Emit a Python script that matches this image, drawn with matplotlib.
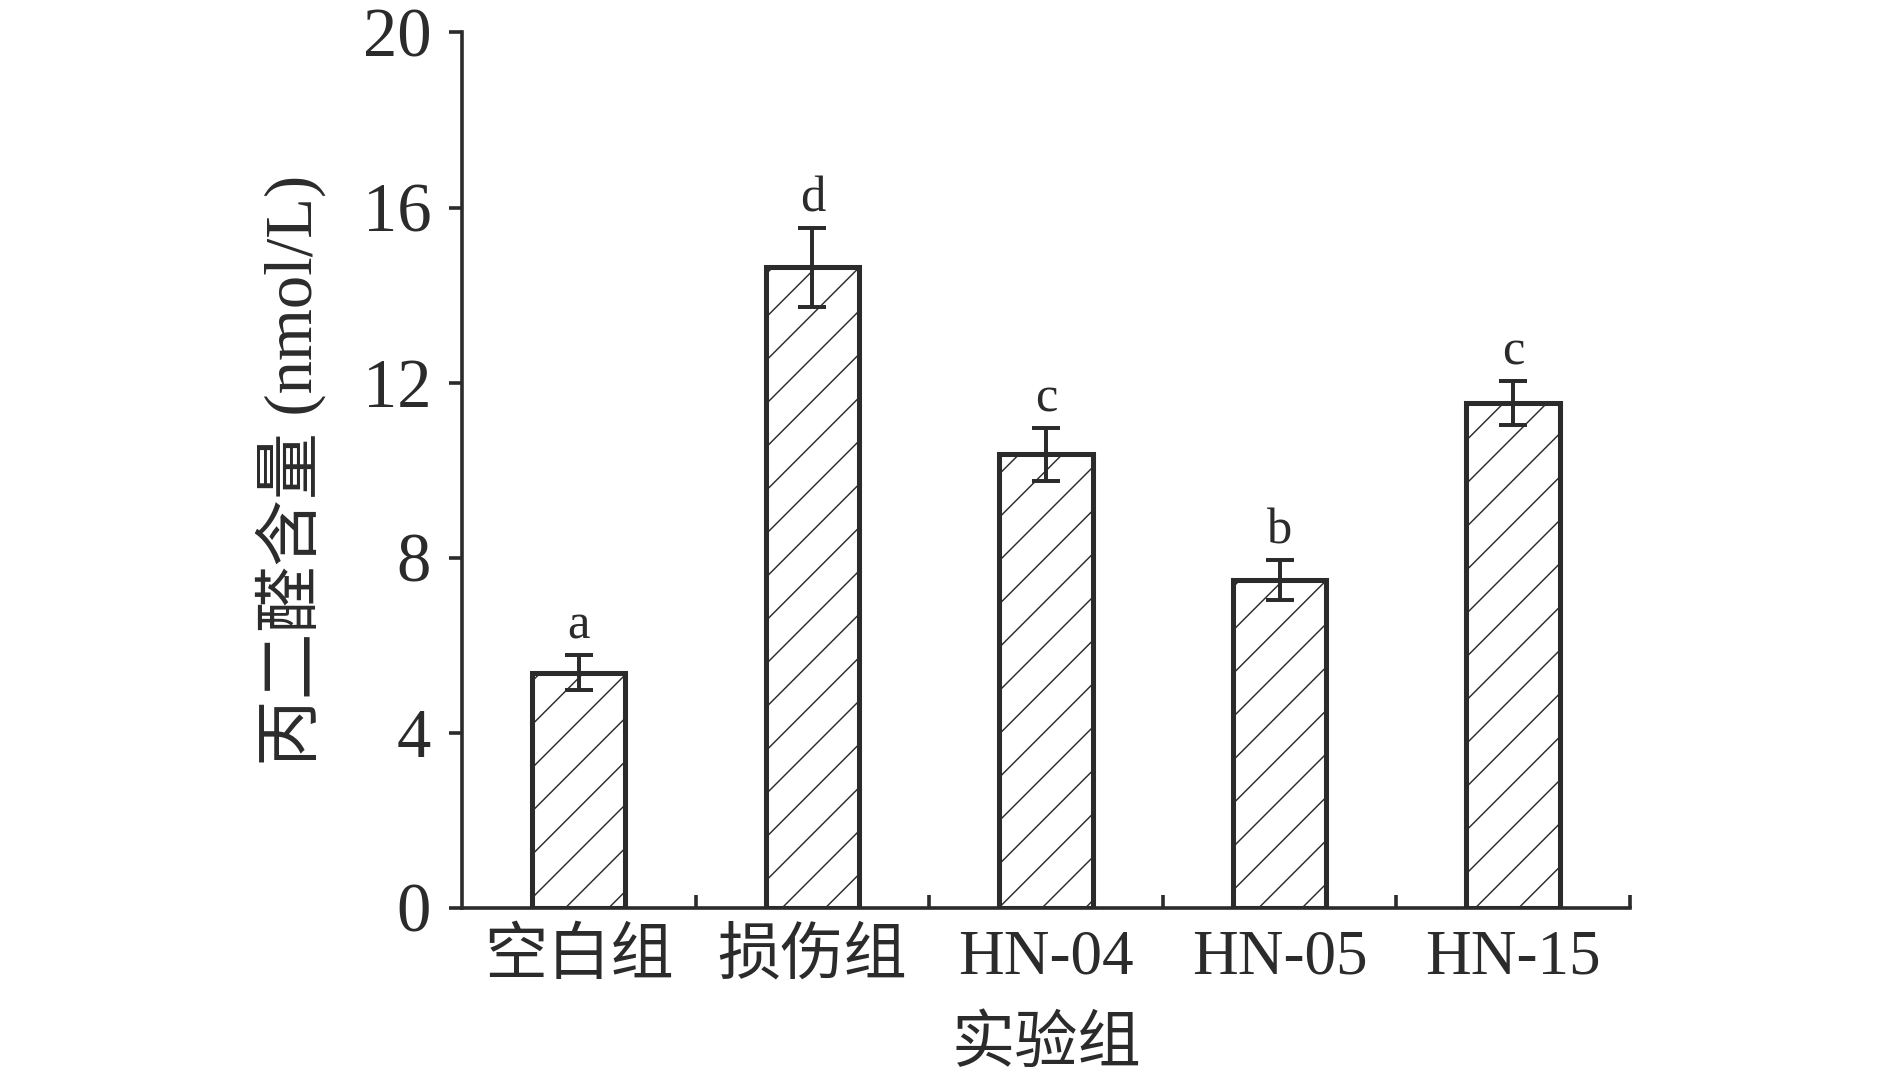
import matplotlib.pyplot as plt
import numpy as np

groups = ["空白组", "损伤组", "HN-04", "HN-05", "HN-15"]
mda = [5.37, 14.63, 10.36, 7.49, 11.54]
err = [0.40, 0.90, 0.60, 0.45, 0.50]
letters = ["a", "d", "c", "b", "c"]

dark = "#2b2b2b"
fonts = ["Liberation Serif", "Noto Sans CJK SC"]
plt.rcParams["font.family"] = fonts
plt.rcParams["hatch.linewidth"] = 0.8

fig = plt.figure(figsize=(1890 / 130, 1086 / 130), dpi=130)
ax = fig.add_axes([0.2444, 0.1642, 0.618, 0.8059])

x = np.arange(len(groups))
ax.bar(x, mda, width=0.4, color="white", edgecolor=dark, linewidth=2.8,
       hatch="/", zorder=2)
ax.errorbar(x, mda, yerr=err, fmt="none", ecolor=dark, elinewidth=2.2,
            capsize=8, capthick=2.2, zorder=3)

for xi, v, e, t in zip(x, mda, err, letters):
    ax.text(xi, v + e + 0.12, t, ha="center", va="bottom", fontsize=28,
            color=dark, family=fonts)

ax.set_xlim(-0.5, 4.5)
ax.set_ylim(0, 20)
ax.set_yticks([0, 4, 8, 12, 16, 20])
ax.set_xticks(x + 0.5)
ax.set_xticklabels([])
ax.set_xticks(x, minor=True)
ax.set_xticklabels(groups, minor=True)

ax.spines["top"].set_visible(False)
ax.spines["right"].set_visible(False)
for s in ("left", "bottom"):
    ax.spines[s].set_linewidth(2.0)
    ax.spines[s].set_color(dark)

ax.tick_params(axis="y", direction="out", length=7, width=2.0, color=dark,
               labelsize=38, labelcolor=dark, pad=10)
ax.tick_params(axis="x", which="major", direction="in", length=7, width=2.0,
               color=dark)
ax.tick_params(axis="x", which="minor", length=0, labelsize=35,
               labelcolor=dark, pad=12)

ax.set_xlabel("实验组", fontsize=35, color=dark, labelpad=16)
ax.set_ylabel("丙二醛含量 (nmol/L)", fontsize=37, color=dark, labelpad=20)

fig.savefig("out.png", dpi=130)
